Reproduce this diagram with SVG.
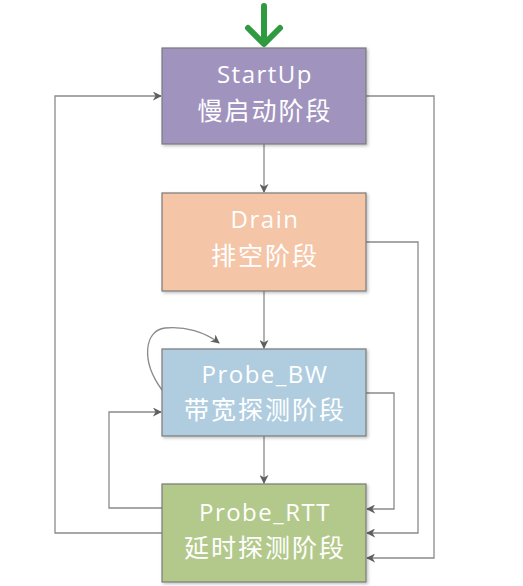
<svg xmlns="http://www.w3.org/2000/svg" width="523" height="586" viewBox="0 0 523 586">
<style>
.box{stroke:#7a7a7a;stroke-width:1.2}
.t{font-family:"Open Sans","Noto Sans CJK SC",sans-serif;fill:#ffffff;text-anchor:middle}
.en{font-size:24px;letter-spacing:1.5px}
.cn{font-size:25px;letter-spacing:2px}
.c{fill:none;stroke:#8a8a8a;stroke-width:1.3}
</style>
<defs>
<marker id="ah" viewBox="0 0 10 10" refX="9" refY="5" markerWidth="9" markerHeight="9" markerUnits="userSpaceOnUse" orient="auto">
<path d="M0,0 L10,5 L0,10 L3,5 Z" fill="#5f5f5f"/>
</marker>
<filter id="sh" x="-5%" y="-5%" width="115%" height="115%">
<feDropShadow dx="1.5" dy="1.5" stdDeviation="1.5" flood-color="#000" flood-opacity="0.25"/>
</filter>
</defs>
<rect width="523" height="586" fill="#ffffff"/>
<g id="connectors">
<path class="c" d="M264,144 V192" marker-end="url(#ah)"/>
<path class="c" d="M264,291 V348" marker-end="url(#ah)"/>
<path class="c" d="M264,436 V483" marker-end="url(#ah)"/>
<path class="c" d="M162,533 H55 V96 H161" marker-end="url(#ah)"/>
<path class="c" d="M162,508 H109 V412 H161" marker-end="url(#ah)"/>
<path class="c" d="M366,96 H434 V558 H367" marker-end="url(#ah)"/>
<path class="c" d="M366,242 H418 V533 H367" marker-end="url(#ah)"/>
<path class="c" d="M366,393 H394 V509 H367" marker-end="url(#ah)"/>
<path class="c" d="M162,390 C140,360 145,330 165,328 C185,326 205,332 219,343" marker-end="url(#ah)"/>
</g>
<g id="start-arrow">
<path d="M264,6 V42 M248,28 L264,44 L280,28" fill="none" stroke="#2f9a3f" stroke-width="6" stroke-linecap="round" stroke-linejoin="round"/>
</g>
<g id="startup">
<rect class="box" x="162" y="48" width="204" height="96" fill="#a094be" filter="url(#sh)"/>
<text class="t en" x="265" y="83">StartUp</text>
<text class="t cn" x="265" y="120">慢启动阶段</text>
</g>
<g id="drain">
<rect class="box" x="162" y="193" width="204" height="98" fill="#f4c5a6" filter="url(#sh)"/>
<text class="t en" x="265" y="228">Drain</text>
<text class="t cn" x="265" y="265">排空阶段</text>
</g>
<g id="probe-bw">
<rect class="box" x="162" y="349" width="204" height="87" fill="#b0cde0" filter="url(#sh)"/>
<text class="t en" x="265" y="383">Probe_BW</text>
<text class="t cn" x="265" y="419">带宽探测阶段</text>
</g>
<g id="probe-rtt">
<rect class="box" x="162" y="484" width="204" height="98" fill="#b3c98b" filter="url(#sh)"/>
<text class="t en" x="265" y="521">Probe_RTT</text>
<text class="t cn" x="265" y="557">延时探测阶段</text>
</g>
</svg>
